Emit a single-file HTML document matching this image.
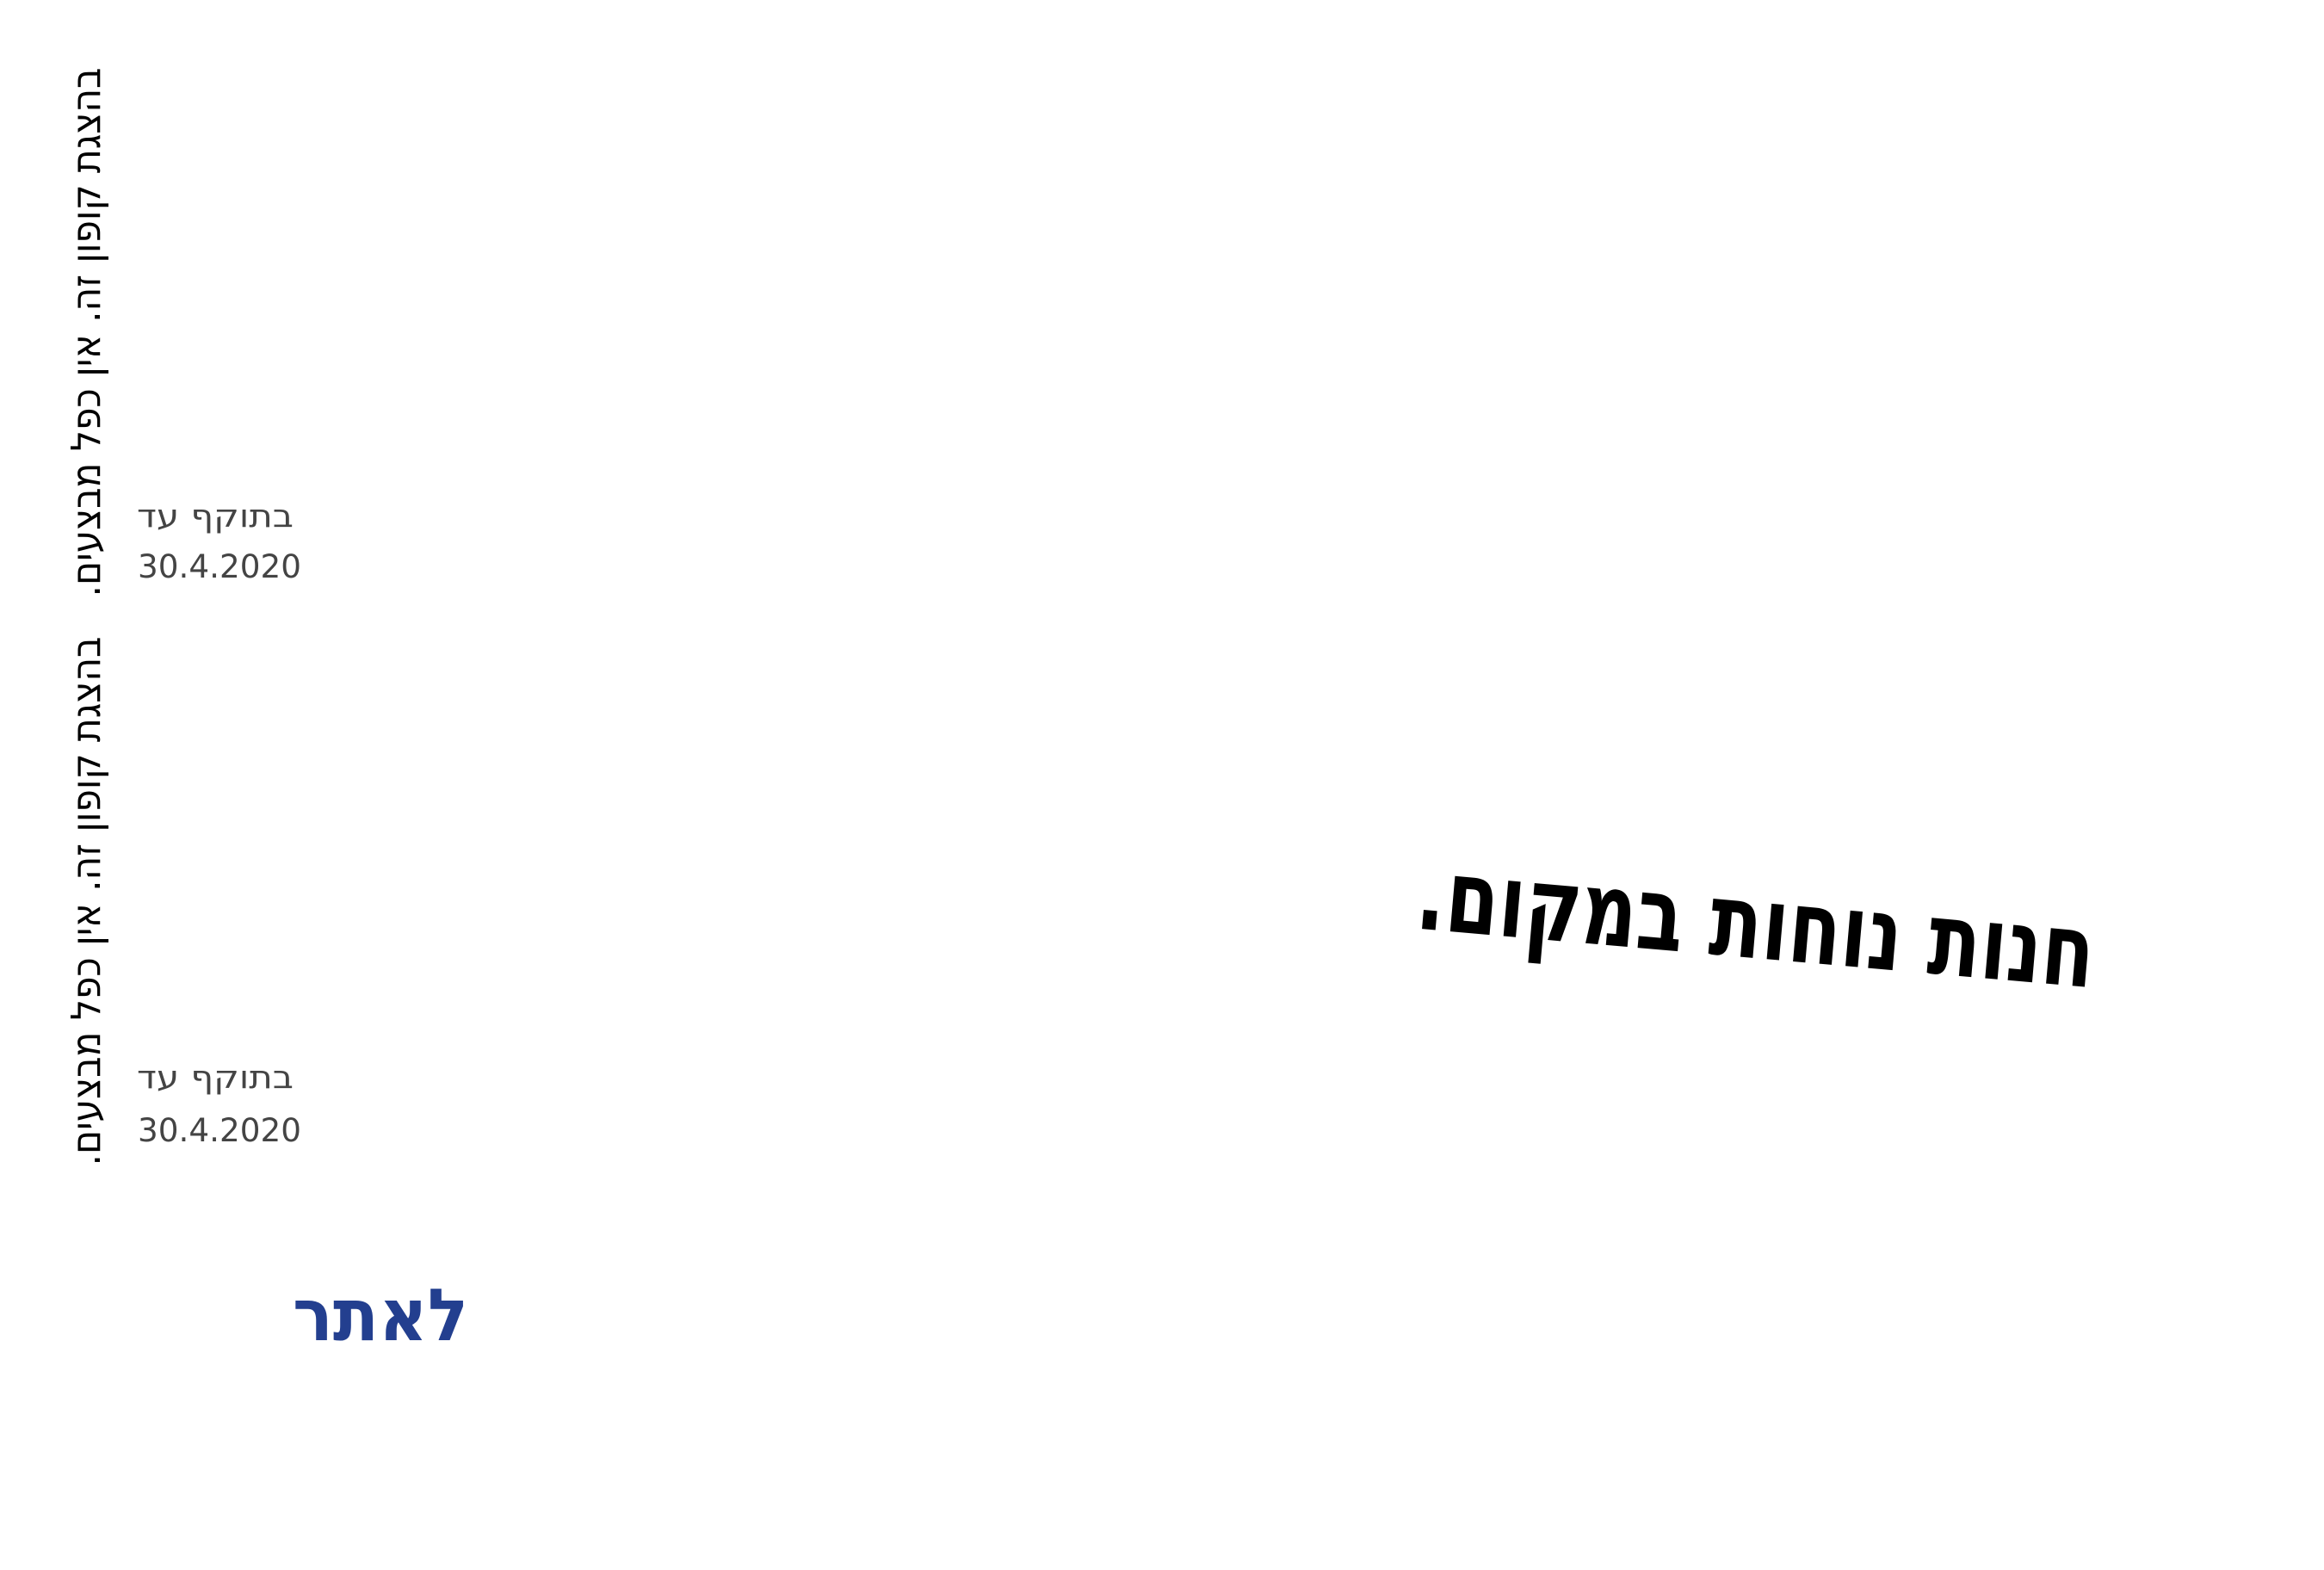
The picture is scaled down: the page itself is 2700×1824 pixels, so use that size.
<!DOCTYPE html>
<html><head><meta charset="utf-8"><style>
html,body{margin:0;padding:0;background:#fff;width:2700px;height:1824px;overflow:hidden}
svg{display:block}
</style></head><body>
<svg width="2700" height="1824" xmlns="http://www.w3.org/2000/svg" font-family="'DejaVu Sans','Liberation Sans',sans-serif">
<g transform="translate(116,386) rotate(-90)">
<text x="0" y="0" text-anchor="middle" font-size="47" fill="#000" textLength="615" lengthAdjust="spacingAndGlyphs" direction="rtl">בהצגת קופון זה. אין כפל מבצעים.</text>
</g>
<g transform="translate(116,1047) rotate(-90)">
<text x="0" y="0" text-anchor="middle" font-size="47" fill="#000" textLength="615" lengthAdjust="spacingAndGlyphs" direction="rtl">בהצגת קופון זה. אין כפל מבצעים.</text>
</g>
<g font-size="37" fill="#444">
<text x="250" y="612" text-anchor="middle" textLength="182" lengthAdjust="spacingAndGlyphs" direction="rtl">בתוקף עד</text>
<text x="160" y="671" textLength="190" lengthAdjust="spacingAndGlyphs">30.4.2020</text>
<text x="250" y="1264" text-anchor="middle" textLength="182" lengthAdjust="spacingAndGlyphs" direction="rtl">בתוקף עד</text>
<text x="160" y="1326" textLength="190" lengthAdjust="spacingAndGlyphs">30.4.2020</text>
</g>
<text x="442" y="1557" text-anchor="middle" font-size="84" font-weight="bold" fill="#233f8f" textLength="204" lengthAdjust="spacingAndGlyphs" direction="rtl">לאתר</text>
<g transform="translate(2040,1073) rotate(5)">
<text x="0" y="40" text-anchor="middle" font-size="118" font-weight="bold" fill="#000" textLength="790" lengthAdjust="spacingAndGlyphs" direction="rtl">חנות נוחות במקום.</text>
</g>
</svg>
</body></html>
